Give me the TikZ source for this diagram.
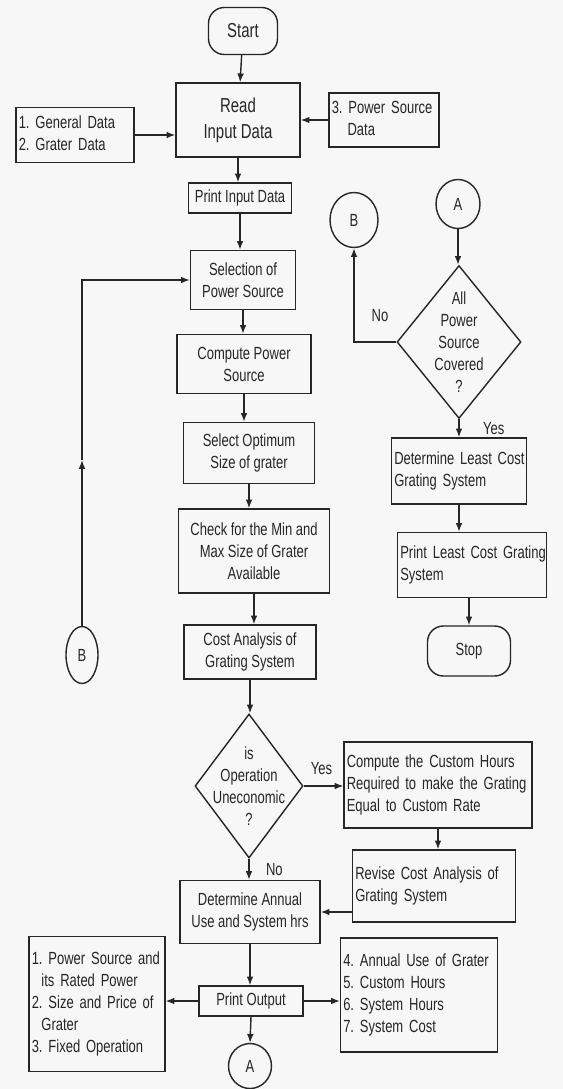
\documentclass[tikz,border=0pt]{standalone}
\usepackage{fontspec}
\setmainfont{Liberation Sans}[FakeStretch=0.74]
\usetikzlibrary{arrows.meta,shapes.geometric}
\frenchspacing
\newcommand{\boxfont}{\fontsize{10}{12.5}\selectfont}
\newcommand{\bigboxfont}{\fontsize{11.5}{15}\selectfont}
\newcommand{\boxlines}[1]{\begin{tabular}{@{}l@{}}#1\end{tabular}}

\begin{document}
\begin{tikzpicture}[x=0.02cm,y=-0.02cm,line width=0.8pt,color=black!85,
  box/.style={draw,inner sep=2pt,align=center,font=\boxfont},
  lbox/.style={box,align=left,inner xsep=1.5pt},
  term/.style={box,rounded corners=9pt},
  dec/.style={draw,diamond,inner sep=0pt},
  dectext/.style={align=center,font=\boxfont},
  conn/.style={draw,ellipse,inner sep=0pt,font=\boxfont},
  lbl/.style={font=\boxfont},
  arr/.style={-{Latex[length=5pt,width=3.8pt]}}]
  \fill[black!3] (0,0) rectangle (563,1089);
  \useasboundingbox (0,0) rectangle (563,1089);

  % main column
  \node[term,minimum width=1.38cm,minimum height=0.94cm,font=\bigboxfont] (start) at (243,31) {Start};
  \node[box,minimum width=2.48cm,minimum height=1.48cm,font=\bigboxfont] (read) at (238,120) {Read\\Input Data};
  \node[lbox,text width=2.25cm,minimum height=1.10cm] (gen) at (75,135) {\boxlines{1. General Data\\2. Grater Data}};
  \node[lbox,text width=2.09cm,minimum height=1.08cm] (psd) at (384,120) {\boxlines{3. Power Source\\\hspace*{0.9em}Data}};
  \node[box,minimum width=2.06cm,minimum height=0.6cm] (pin) at (240,198) {Print Input Data};
  \node[box,minimum width=2.10cm,minimum height=1.18cm] (sel) at (243,280) {Selection of\\Power Source};
  \node[box,minimum width=2.68cm,minimum height=1.18cm] (cps) at (244,364) {Compute Power\\Source};
  \node[box,minimum width=2.62cm,minimum height=1.22cm] (opt) at (249,453) {Select Optimum\\Size of grater};
  \node[box,minimum width=3.02cm,minimum height=1.68cm] (chk) at (254,551) {Check for the Min and\\Max Size of Grater\\Available};
  \node[box,minimum width=2.64cm,minimum height=1.08cm] (cst) at (250,652) {Cost Analysis of\\Grating System};
  \node[dec,minimum width=2.16cm,minimum height=2.88cm] (op) at (249,786) {};
  \node[dectext] (optxt) at (op) {is\\Operation\\Uneconomic\\?};
  \node[box,minimum width=2.80cm,minimum height=1.26cm] (ann) at (250,912) {Determine Annual\\Use and System hrs};
  \node[box,minimum width=2.08cm,minimum height=0.6cm] (pout) at (251,1001) {Print Output};
  \node[conn,minimum width=0.86cm,minimum height=0.90cm] (ab) at (250,1066) {A};

  % outputs
  \node[lbox,text width=2.61cm,minimum height=2.70cm] (lout) at (97,1004) {\boxlines{1. Power Source and\\\hspace*{0.55em}its Rated Power\\2. Size and Price of\\\hspace*{0.55em}Grater\\3. Fixed Operation}};
  \node[lbox,text width=3.03cm,minimum height=2.28cm] (rout) at (419,995) {\boxlines{4. Annual Use of Grater\\5. Custom Hours\\6. System Hours\\7. System Cost}};

  % custom branch
  \node[lbox,text width=3.65cm,minimum height=1.72cm] (cus) at (438,785) {\boxlines{Compute the Custom Hours\\Required to make the Grating\\Equal to Custom Rate}};
  \node[lbox,text width=3.15cm,minimum height=1.44cm] (rev) at (434,886) {\boxlines{Revise Cost Analysis of\\Grating System}};

  % right column
  \node[conn,minimum width=0.96cm,minimum height=1.10cm] (bt) at (354,220) {B};
  \node[conn,minimum width=0.88cm,minimum height=0.98cm] (at) at (458,204) {A};
  \node[dec,minimum width=2.48cm,minimum height=3.06cm] (all) at (459,342) {};
  \node[dectext] (alltxt) at (all) {All\\Power\\Source\\Covered\\?};
  \node[lbox,text width=2.59cm,minimum height=1.32cm] (dlc) at (459,471) {\boxlines{Determine Least Cost\\Grating System}};
  \node[lbox,text width=2.87cm,minimum height=1.30cm] (plc) at (472,565) {\boxlines{Print Least Cost Grating\\System}};
  \node[term,minimum width=1.66cm,minimum height=1.0cm] (stop) at (469,651) {Stop};

  % loop back connector
  \node[conn,minimum width=0.64cm,minimum height=1.14cm] (bb) at (82,655) {B};
  \coordinate (loopmid) at (82,460);

  \draw[arr] (start) -- (read);
  \draw[arr] (gen.east) -- (gen.east -| read.west);
  \draw[arr] (psd.west) -- (psd.west -| read.east);
  \draw[arr] (read.south) -- (read.south |- pin.north);
  \draw[arr] (pin.south) -- (pin.south |- sel.north);
  \draw[arr] (sel.south) -- (sel.south |- cps.north);
  \draw[arr] (cps.south) -- (cps.south |- opt.north);
  \draw[arr] (opt.south) -- (opt.south |- chk.north);
  \draw[arr] (chk.south) -- (chk.south |- cst.north);
  \draw[arr] (cst.south) -- (cst.south |- op.north);
  \draw[arr] (op.east) -- (op.east -| cus.west) node[lbl,pos=0.45,above=3pt] {Yes};
  \draw[arr] (cus.south) -- (cus.south |- rev.north);
  \draw[arr] (ann.east -| rev.west) -- (ann.east);
  \draw[arr] (op.south) -- (op.south |- ann.north) node[lbl,midway,right=6pt] {No};
  \draw[arr] (ann.south) -- (ann.south |- pout.north);
  \draw[arr] (pout.west) -- (pout.west -| lout.east);
  \draw[arr] (pout.east) -- (pout.east -| rout.west);
  \draw[arr] (pout.south) -- (ab.north);

  \draw[arr] (at.south) -- (at.south |- all.north);
  \draw[arr] (all.west) -- (all.west -| bt.south) -- (bt.south);
  \node[lbl] (nolbl) at (380,316) {No};
  \draw[arr] (all.south) -- (dlc.north) node[lbl,midway,right=10pt] {Yes};
  \draw[arr] (dlc.south) -- (dlc.south |- plc.north);
  \draw[arr] (plc.south -| stop.north) -- (stop.north);

  \draw[arr] (bb.north) -- (loopmid);
  \draw[arr] (loopmid) -- (loopmid |- sel.west) -- (sel.west);
\end{tikzpicture}
\end{document}
